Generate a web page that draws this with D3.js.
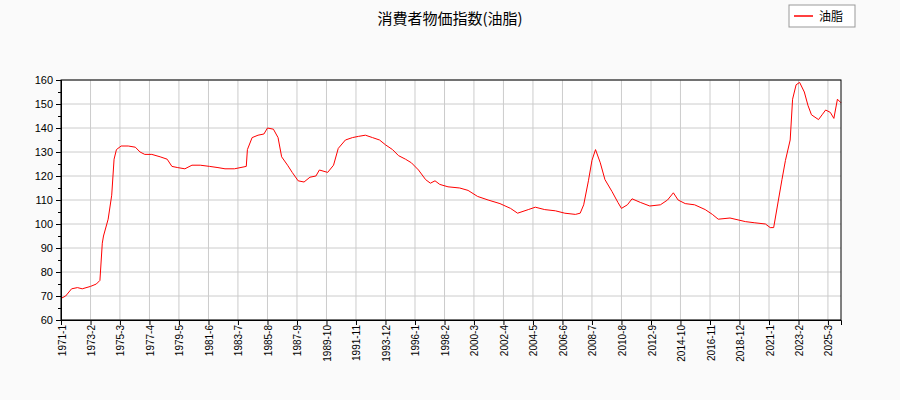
<!DOCTYPE html>
<html><head><meta charset="utf-8">
<script src="https://cdn.jsdelivr.net/npm/d3@7"></script>
<style>body{margin:0;background:#fafafa;font-family:"Noto Sans CJK JP","DejaVu Sans",sans-serif}</style>
</head><body><svg id="c" width="900" height="400"></svg>
<script>
// months since 1971-1
const months = [0,4,9,14,18,25,30,33,35,36,40,43,45,47,51,57,63,67,71,77,84,90,94,99,105,111,118,126,133,139,147,157,158,162,167,172,175,180,184,187,192,196,201,206,211,216,219,226,231,235,241,247,252,258,264,270,275,281,286,292,297,303,309,313,317,321,328,338,345,353,362,372,381,387,396,402,410,419,427,436,440,443,447,450,453,457,461,467,472,475,480,484,491,499,508,514,519,523,529,537,546,552,557,567,580,588,597,601,604,608,611,614,618,620,623,626,630,633,636,642,645,648,652,655,658,661];
const values = [69,70,73,73.5,73,74,75,76.5,92,95,102,112,127,131,132.5,132.5,132,130,129,129,128,127,124,123.5,123,124.5,124.5,124,123.5,123,123,124,131,136,137,137.5,140,139.5,136,128,124.5,121.5,118,117.5,119.5,120,122.5,121.5,124.5,131.5,135,136,136.5,137,136,135,133,131,128.5,127,125.5,122.5,118.5,117,118,116.5,115.5,115,114,111.5,110,108.5,106.5,104.5,106,107,106,105.5,104.5,104,104.5,108,118,126.5,131,125.5,118.5,113.5,109,106.5,108,110.5,109,107.5,108,110,113,110,108.5,108,106,104,102,102.5,101,100.5,100,98.5,98.5,110,118.5,126.5,135,152,158,159,155,149.5,145.5,143.5,145.5,147.5,146.5,144,152,150.5];
const tickMonths = d3.range(0, 661, 25);
const title = "消費者物価指数(油脂)";
const seriesName = "油脂";

const svg = d3.select("#c");
const m = {l:61, r:841, t:80, b:320};
const toDate = k => new Date(1971, k, 1);
const x = d3.scaleTime().domain([toDate(0), toDate(661)]).range([m.l, m.r]);
const y = d3.scaleLinear().domain([60,160]).range([m.b, m.t]);

svg.append("rect").attr("x",m.l).attr("y",m.t).attr("width",m.r-m.l).attr("height",m.b-m.t).attr("fill","#fff");
const g = svg.append("g").attr("stroke","#ccc").attr("stroke-width",1);
y.ticks(10).forEach(v => g.append("line").attr("x1",m.l).attr("x2",m.r).attr("y1",y(v)).attr("y2",y(v)));
tickMonths.forEach(k => g.append("line").attr("x1",x(toDate(k))).attr("x2",x(toDate(k))).attr("y1",m.t).attr("y2",m.b));

svg.append("path").datum(months.map((k,i)=>[toDate(k),values[i]]))
  .attr("fill","none").attr("stroke","#f00").attr("stroke-width",1)
  .attr("d", d3.line().x(d=>x(d[0])).y(d=>y(d[1])));

const ya = svg.append("g").attr("transform",`translate(${m.l},0)`)
  .call(d3.axisLeft(y).tickValues(d3.range(60,161,5)).tickSize(0).tickFormat(""));
ya.selectAll(".tick line").attr("x2",-3);
svg.append("g").attr("transform",`translate(${m.l},0)`)
  .call(d3.axisLeft(y).ticks(10).tickSize(5).tickPadding(3))
  .call(a=>a.selectAll("text").attr("font-size",11).attr("fill","#000"));

svg.append("g").attr("transform",`translate(0,${m.b})`)
  .call(d3.axisBottom(x).tickValues(tickMonths.map(toDate)).tickSize(5)
    .tickFormat(d=>`${d.getFullYear()}-${d.getMonth()+1}`))
  .call(a=>a.selectAll("text").attr("font-size",10).attr("fill","#000")
    .attr("transform","rotate(-90)").attr("text-anchor","end").attr("dx","-0.5em").attr("dy","-0.4em"));
svg.append("rect").attr("x",m.l).attr("y",m.t).attr("width",m.r-m.l).attr("height",m.b-m.t).attr("fill","none").attr("stroke","#000");

svg.append("text").attr("x",450).attr("y",24).attr("text-anchor","middle").attr("font-size",15).text(title);
const lg = svg.append("g").attr("transform","translate(789,5)");
lg.append("rect").attr("width",66).attr("height",22).attr("fill","#fff").attr("stroke","#999");
lg.append("line").attr("x1",5).attr("x2",24).attr("y1",11).attr("y2",11).attr("stroke","#f00").attr("stroke-width",1.5);
lg.append("text").attr("x",30).attr("y",15.5).attr("font-size",12).text(seriesName);
</script></body></html>
